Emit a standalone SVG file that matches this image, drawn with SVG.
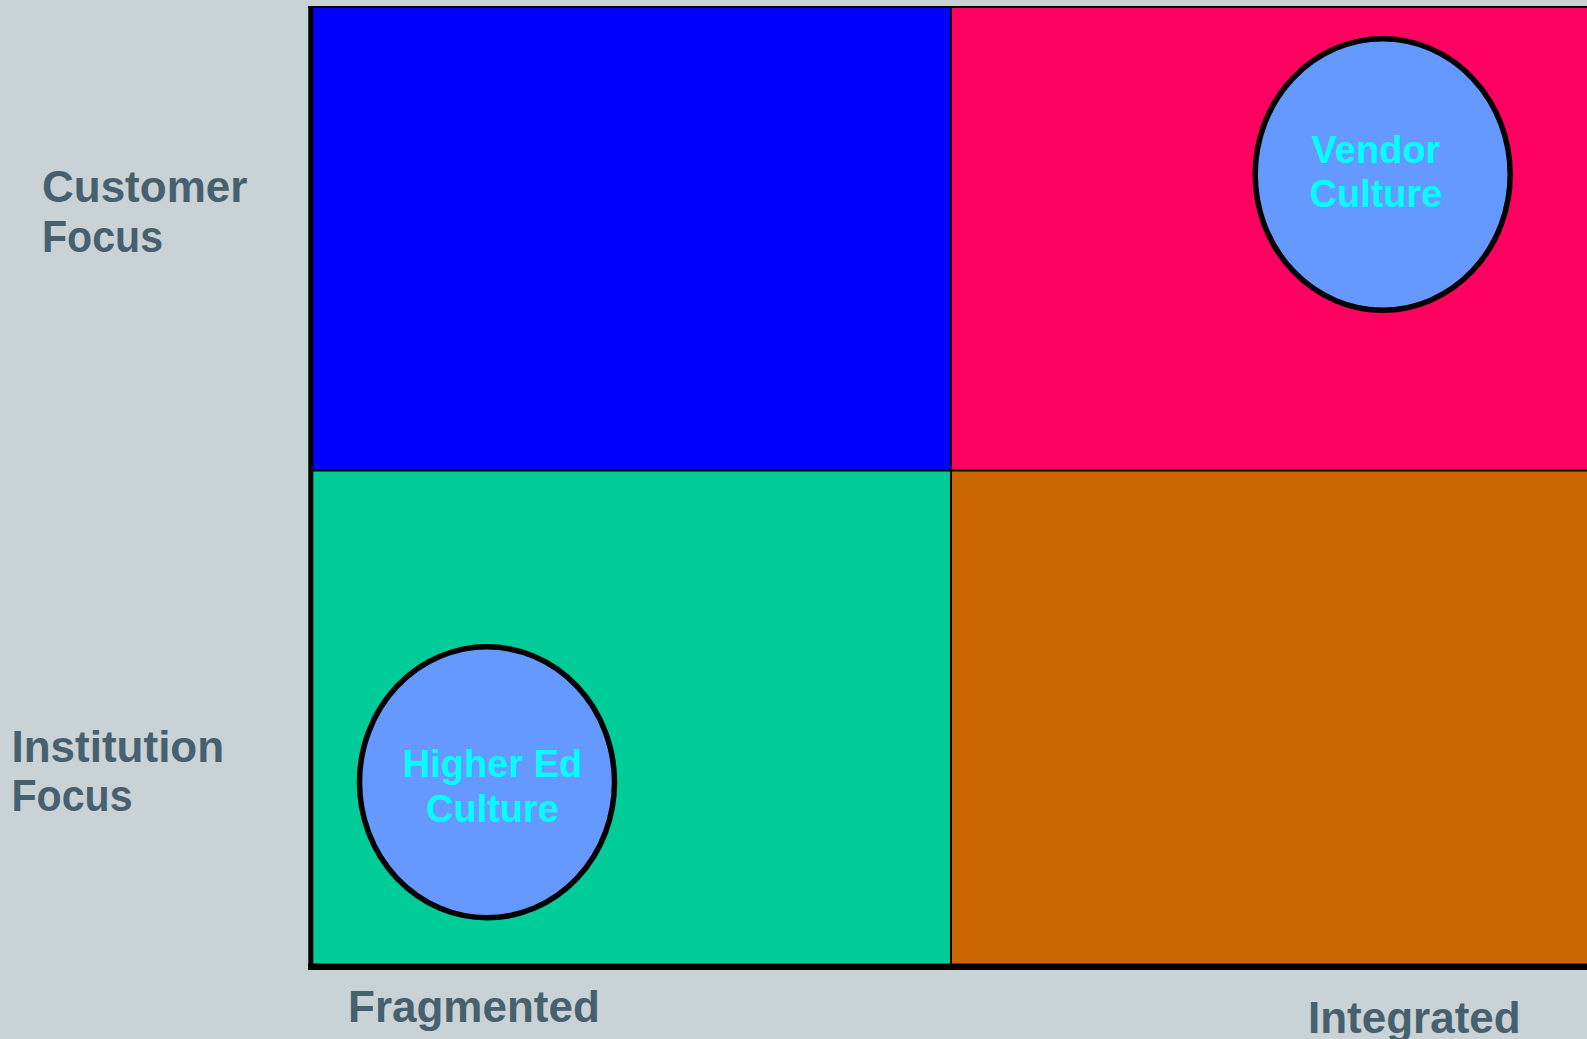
<svg xmlns="http://www.w3.org/2000/svg" width="1587" height="1039" viewBox="0 0 1587 1039">
  <style>
    .axis { font-family: "Liberation Sans", Arial, sans-serif; font-weight: bold; font-size: 44px; fill: #46606e; }
    .node-text { font-family: "Liberation Sans", Arial, sans-serif; font-weight: bold; font-size: 38px; fill: #00ffff; text-anchor: middle; }
    .bubble { fill: #6699ff; stroke: #000000; stroke-width: 5.5; }
    .frame { stroke: #000000; fill: none; }
  </style>
  <rect x="0" y="0" width="1587" height="1039" fill="#c9d3d6"/>

  <g id="quadrants">
    <rect id="q-top-left" x="310" y="7" width="641" height="464" fill="#0000ff"/>
    <rect id="q-top-right" x="951" y="7" width="636" height="464" fill="#ff0060"/>
    <rect id="q-bottom-left" x="310" y="471" width="641" height="496" fill="#00cc99"/>
    <rect id="q-bottom-right" x="951" y="471" width="636" height="496" fill="#cc6600"/>
  </g>

  <g id="connectors">
    <line class="frame" x1="951" y1="7" x2="951" y2="967" stroke-width="2"/>
    <line class="frame" x1="310" y1="470.5" x2="1587" y2="470.5" stroke-width="1.8"/>
    <line class="frame" x1="308" y1="7" x2="1587" y2="7" stroke-width="2"/>
    <line class="frame" x1="310.8" y1="6" x2="310.8" y2="970" stroke-width="5"/>
    <line class="frame" x1="308" y1="966.7" x2="1587" y2="966.7" stroke-width="6.5"/>
  </g>

  <g id="vendor-culture">
    <ellipse class="bubble" cx="1382.7" cy="174.5" rx="127.5" ry="135.7"/>
    <text class="node-text" x="1376" y="163.3">Vendor</text>
    <text class="node-text" x="1376" y="207.3">Culture</text>
  </g>

  <g id="higher-ed-culture">
    <ellipse class="bubble" cx="487" cy="782.3" rx="127.5" ry="135.5"/>
    <text class="node-text" x="492.5" y="777.3">Higher Ed</text>
    <text class="node-text" x="492.5" y="821.7">Culture</text>
  </g>

  <g id="label-customer-focus">
    <text class="axis" x="42" y="201.7">Customer</text>
    <text class="axis" x="42" y="251.7" textLength="121" lengthAdjust="spacingAndGlyphs">Focus</text>
  </g>
  <g id="label-institution-focus">
    <text class="axis" x="11.5" y="761.7">Institution</text>
    <text class="axis" x="11.5" y="811" textLength="121" lengthAdjust="spacingAndGlyphs">Focus</text>
  </g>
  <g id="label-fragmented">
    <text class="axis" x="348" y="1021.7">Fragmented</text>
  </g>
  <g id="label-integrated">
    <text class="axis" x="1308" y="1033">Integrated</text>
  </g>
</svg>
